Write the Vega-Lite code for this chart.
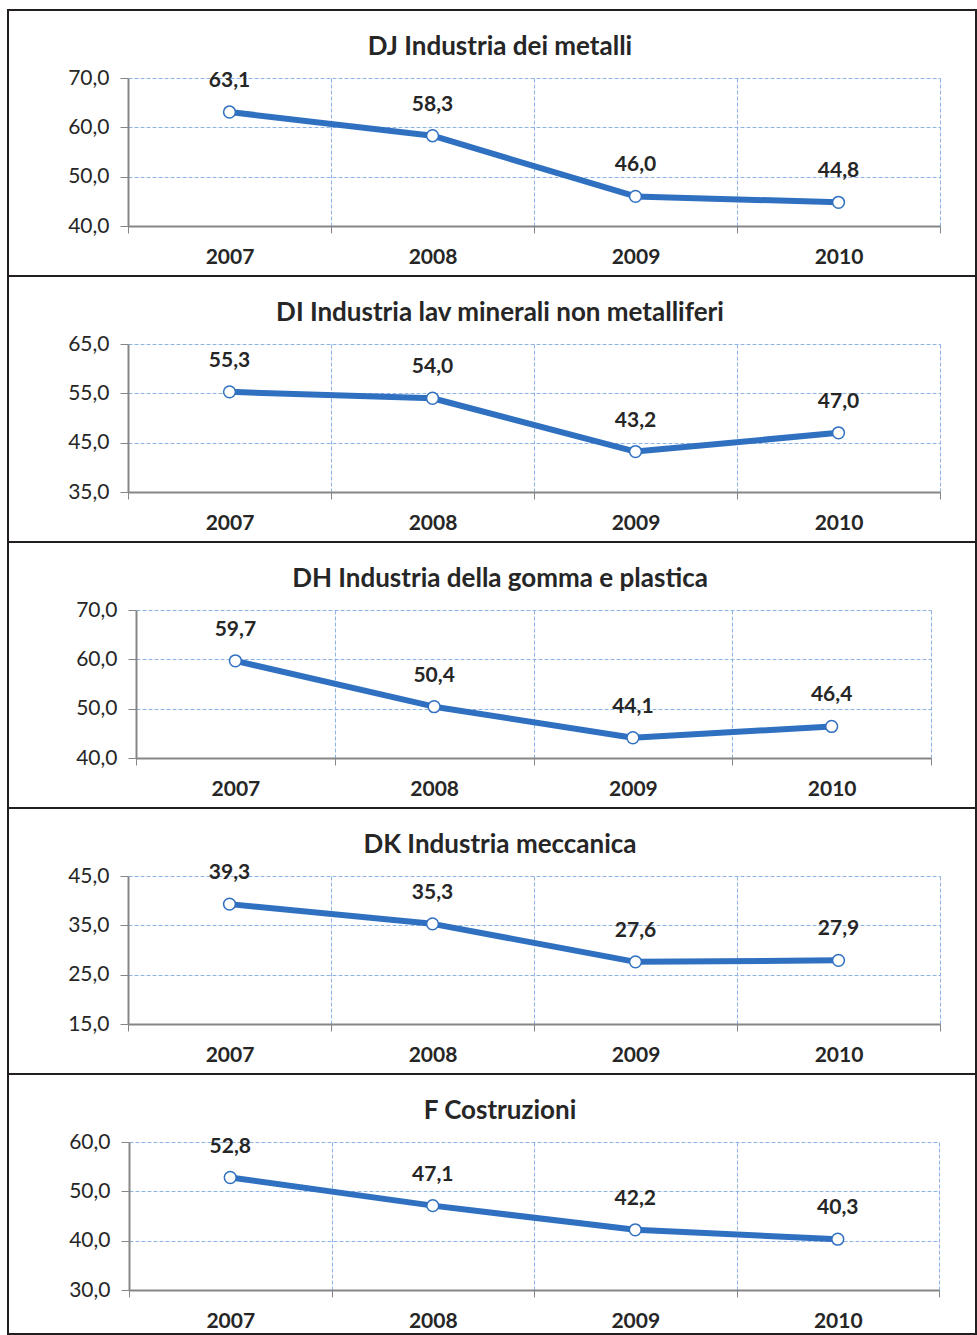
{
  "$schema": "https://vega.github.io/schema/vega-lite/v6.json",
  "padding": {"left": 7, "top": 9, "right": 0, "bottom": 0},
  "background": "white",
  "data": {"values": [
    {"sector": "DJ", "year": 2007, "value": 63.1},
    {"sector": "DJ", "year": 2008, "value": 58.3},
    {"sector": "DJ", "year": 2009, "value": 46.0},
    {"sector": "DJ", "year": 2010, "value": 44.8},
    {"sector": "DI", "year": 2007, "value": 55.3},
    {"sector": "DI", "year": 2008, "value": 54.0},
    {"sector": "DI", "year": 2009, "value": 43.2},
    {"sector": "DI", "year": 2010, "value": 47.0},
    {"sector": "DH", "year": 2007, "value": 59.7},
    {"sector": "DH", "year": 2008, "value": 50.4},
    {"sector": "DH", "year": 2009, "value": 44.1},
    {"sector": "DH", "year": 2010, "value": 46.4},
    {"sector": "DK", "year": 2007, "value": 39.3},
    {"sector": "DK", "year": 2008, "value": 35.3},
    {"sector": "DK", "year": 2009, "value": 27.6},
    {"sector": "DK", "year": 2010, "value": 27.9},
    {"sector": "F", "year": 2007, "value": 52.8},
    {"sector": "F", "year": 2008, "value": 47.1},
    {"sector": "F", "year": 2009, "value": 42.2},
    {"sector": "F", "year": 2010, "value": 40.3}
  ]},
  "spacing": 0,
  "bounds": "flush",
  "vconcat": [
    {
      "width": 968, "height": 266,
      "title": {"text": "DJ Industria dei metalli", "frame": "group", "anchor": "middle", "offset": -71, "baseline": "alphabetic", "dx": 8},
      "transform": [{"filter": "datum.sector === 'DJ'"}],
      "resolve": {"axis": {"x": "independent"}},
      "encoding": {
        "y": {"field": "value", "type": "quantitative",
          "scale": {"domain": [40, 70], "range": [216, 68], "nice": false, "zero": false},
          "axis": {"values": [40, 50, 60, 70], "format": ".1f", "offset": -120, "title": null}}
      },
      "layer": [
        {"mark": {"type": "line", "color": "#3070C0", "strokeWidth": 6, "strokeJoin": "round", "strokeCap": "round"},
          "encoding": {"x": {"field": "year", "type": "quantitative",
            "scale": {"domain": [2006.5, 2010.5], "range": [120, 932], "nice": false, "zero": false},
            "axis": {"values": [2006.5, 2007.5, 2008.5, 2009.5, 2010.5], "labelExpr": "datum.value > 2010 ? '' : format(datum.value + 0.5, 'd')", "labelOffset": 101.5, "offset": -50, "title": null, "grid": false}}}},
        {"mark": {"type": "point", "filled": true, "fill": "white", "stroke": "#3070C0", "strokeWidth": 1.5, "size": 140, "opacity": 1},
          "encoding": {"x": {"field": "year", "type": "quantitative",
            "axis": {"orient": "top", "values": [2006.5, 2007.5, 2008.5, 2009.5, 2010.5], "grid": true, "domain": false, "ticks": false, "labels": false, "title": null}}}},
        {"mark": {"type": "text", "dy": -31, "font": "Lato", "fontWeight": "bold", "fontSize": 21, "color": "#262626"},
          "encoding": {"x": {"field": "year", "type": "quantitative", "axis": null},
            "text": {"field": "value", "type": "quantitative", "format": ".1f"}}}
      ]
    },
    {
      "width": 968, "height": 266,
      "title": {"text": "DI Industria lav minerali non metalliferi", "frame": "group", "anchor": "middle", "offset": -71, "baseline": "alphabetic", "dx": 8},
      "transform": [{"filter": "datum.sector === 'DI'"}],
      "resolve": {"axis": {"x": "independent"}},
      "encoding": {
        "y": {"field": "value", "type": "quantitative",
          "scale": {"domain": [35, 65], "range": [216, 68], "nice": false, "zero": false},
          "axis": {"values": [35, 45, 55, 65], "format": ".1f", "offset": -120, "title": null}}
      },
      "layer": [
        {"mark": {"type": "line", "color": "#3070C0", "strokeWidth": 6, "strokeJoin": "round", "strokeCap": "round"},
          "encoding": {"x": {"field": "year", "type": "quantitative",
            "scale": {"domain": [2006.5, 2010.5], "range": [120, 932], "nice": false, "zero": false},
            "axis": {"values": [2006.5, 2007.5, 2008.5, 2009.5, 2010.5], "labelExpr": "datum.value > 2010 ? '' : format(datum.value + 0.5, 'd')", "labelOffset": 101.5, "offset": -50, "title": null, "grid": false}}}},
        {"mark": {"type": "point", "filled": true, "fill": "white", "stroke": "#3070C0", "strokeWidth": 1.5, "size": 140, "opacity": 1},
          "encoding": {"x": {"field": "year", "type": "quantitative",
            "axis": {"orient": "top", "values": [2006.5, 2007.5, 2008.5, 2009.5, 2010.5], "grid": true, "domain": false, "ticks": false, "labels": false, "title": null}}}},
        {"mark": {"type": "text", "dy": -31, "font": "Lato", "fontWeight": "bold", "fontSize": 21, "color": "#262626"},
          "encoding": {"x": {"field": "year", "type": "quantitative", "axis": null},
            "text": {"field": "value", "type": "quantitative", "format": ".1f"}}}
      ]
    },
    {
      "width": 968, "height": 266,
      "title": {"text": "DH Industria della gomma e plastica", "frame": "group", "anchor": "middle", "offset": -71, "baseline": "alphabetic", "dx": 8},
      "transform": [{"filter": "datum.sector === 'DH'"}],
      "resolve": {"axis": {"x": "independent"}},
      "encoding": {
        "y": {"field": "value", "type": "quantitative",
          "scale": {"domain": [40, 70], "range": [216, 68], "nice": false, "zero": false},
          "axis": {"values": [40, 50, 60, 70], "format": ".1f", "offset": -128, "title": null}}
      },
      "layer": [
        {"mark": {"type": "line", "color": "#3070C0", "strokeWidth": 6, "strokeJoin": "round", "strokeCap": "round"},
          "encoding": {"x": {"field": "year", "type": "quantitative",
            "scale": {"domain": [2006.5, 2010.5], "range": [128, 923], "nice": false, "zero": false},
            "axis": {"values": [2006.5, 2007.5, 2008.5, 2009.5, 2010.5], "labelExpr": "datum.value > 2010 ? '' : format(datum.value + 0.5, 'd')", "labelOffset": 99.4, "offset": -50, "title": null, "grid": false}}}},
        {"mark": {"type": "point", "filled": true, "fill": "white", "stroke": "#3070C0", "strokeWidth": 1.5, "size": 140, "opacity": 1},
          "encoding": {"x": {"field": "year", "type": "quantitative",
            "axis": {"orient": "top", "values": [2006.5, 2007.5, 2008.5, 2009.5, 2010.5], "grid": true, "domain": false, "ticks": false, "labels": false, "title": null}}}},
        {"mark": {"type": "text", "dy": -31, "font": "Lato", "fontWeight": "bold", "fontSize": 21, "color": "#262626"},
          "encoding": {"x": {"field": "year", "type": "quantitative", "axis": null},
            "text": {"field": "value", "type": "quantitative", "format": ".1f"}}}
      ]
    },
    {
      "width": 968, "height": 266,
      "title": {"text": "DK Industria meccanica", "frame": "group", "anchor": "middle", "offset": -71, "baseline": "alphabetic", "dx": 8},
      "transform": [{"filter": "datum.sector === 'DK'"}],
      "resolve": {"axis": {"x": "independent"}},
      "encoding": {
        "y": {"field": "value", "type": "quantitative",
          "scale": {"domain": [15, 45], "range": [216, 68], "nice": false, "zero": false},
          "axis": {"values": [15, 25, 35, 45], "format": ".1f", "offset": -120, "title": null}}
      },
      "layer": [
        {"mark": {"type": "line", "color": "#3070C0", "strokeWidth": 6, "strokeJoin": "round", "strokeCap": "round"},
          "encoding": {"x": {"field": "year", "type": "quantitative",
            "scale": {"domain": [2006.5, 2010.5], "range": [120, 932], "nice": false, "zero": false},
            "axis": {"values": [2006.5, 2007.5, 2008.5, 2009.5, 2010.5], "labelExpr": "datum.value > 2010 ? '' : format(datum.value + 0.5, 'd')", "labelOffset": 101.5, "offset": -50, "title": null, "grid": false}}}},
        {"mark": {"type": "point", "filled": true, "fill": "white", "stroke": "#3070C0", "strokeWidth": 1.5, "size": 140, "opacity": 1},
          "encoding": {"x": {"field": "year", "type": "quantitative",
            "axis": {"orient": "top", "values": [2006.5, 2007.5, 2008.5, 2009.5, 2010.5], "grid": true, "domain": false, "ticks": false, "labels": false, "title": null}}}},
        {"mark": {"type": "text", "dy": -31, "font": "Lato", "fontWeight": "bold", "fontSize": 21, "color": "#262626"},
          "encoding": {"x": {"field": "year", "type": "quantitative", "axis": null},
            "text": {"field": "value", "type": "quantitative", "format": ".1f"}}}
      ]
    },
    {
      "width": 968, "height": 260,
      "title": {"text": "F Costruzioni", "frame": "group", "anchor": "middle", "offset": -71, "baseline": "alphabetic", "dx": 8},
      "transform": [{"filter": "datum.sector === 'F'"}],
      "resolve": {"axis": {"x": "independent"}},
      "encoding": {
        "y": {"field": "value", "type": "quantitative",
          "scale": {"domain": [30, 60], "range": [216, 68], "nice": false, "zero": false},
          "axis": {"values": [30, 40, 50, 60], "format": ".1f", "offset": -121, "title": null}}
      },
      "layer": [
        {"mark": {"type": "line", "color": "#3070C0", "strokeWidth": 6, "strokeJoin": "round", "strokeCap": "round"},
          "encoding": {"x": {"field": "year", "type": "quantitative",
            "scale": {"domain": [2006.5, 2010.5], "range": [121, 931], "nice": false, "zero": false},
            "axis": {"values": [2006.5, 2007.5, 2008.5, 2009.5, 2010.5], "labelExpr": "datum.value > 2010 ? '' : format(datum.value + 0.5, 'd')", "labelOffset": 101.25, "offset": -44, "title": null, "grid": false}}}},
        {"mark": {"type": "point", "filled": true, "fill": "white", "stroke": "#3070C0", "strokeWidth": 1.5, "size": 140, "opacity": 1},
          "encoding": {"x": {"field": "year", "type": "quantitative",
            "axis": {"orient": "top", "values": [2006.5, 2007.5, 2008.5, 2009.5, 2010.5], "grid": true, "domain": false, "ticks": false, "labels": false, "title": null}}}},
        {"mark": {"type": "text", "dy": -31, "font": "Lato", "fontWeight": "bold", "fontSize": 21, "color": "#262626"},
          "encoding": {"x": {"field": "year", "type": "quantitative", "axis": null},
            "text": {"field": "value", "type": "quantitative", "format": ".1f"}}}
      ]
    }
  ],
  "config": {
    "locale": {"number": {"decimal": ",", "thousands": ".", "grouping": [3], "currency": ["€", ""]}},
    "view": {"stroke": "#231F20", "strokeWidth": 2},
    "title": {"font": "Lato", "fontSize": 26, "fontWeight": "bold", "color": "#262626"},
    "axis": {
      "grid": true,
      "gridColor": "#8EB4E3",
      "gridDash": [4, 2],
      "gridWidth": 1,
      "domainColor": "#868686",
      "domainWidth": 2,
      "tickColor": "#868686",
      "tickWidth": 1,
      "labelFont": "Lato",
      "labelColor": "#262626",
      "labelFontSize": 21
    },
    "axisX": {"tickSize": 7, "labelFontWeight": "bold", "labelPadding": 13, "labelFlush": false, "labelOverlap": false, "labelBound": false},
    "axisY": {"tickSize": 8, "labelPadding": 11, "labelFontWeight": "normal"}
  }
}
